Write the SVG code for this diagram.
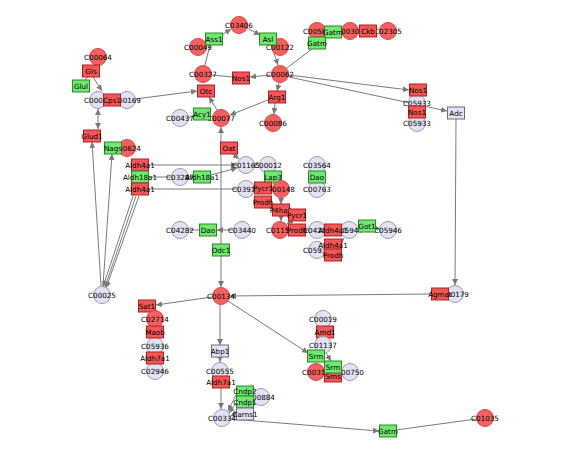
<svg xmlns="http://www.w3.org/2000/svg" width="570" height="456" viewBox="0 0 570 456">
<style>
.e{stroke:#7a7a7a;stroke-width:1;fill:none}
.a{marker-end:url(#ar)}
.b{marker-start:url(#as)}
.cr{fill:#f66060;stroke:#d84848;stroke-width:1}
.cl{fill:#e2e2f4;stroke:#9c9cab;stroke-width:1}
.rr{fill:#f25656;stroke:#b02020;stroke-width:1}
.rg{fill:#70e870;stroke:#2a8a2a;stroke-width:1}
.rl{fill:#e2e2f4;stroke:#6c6c80;stroke-width:1}
text{font-family:"DejaVu Sans",sans-serif;font-size:7.2px;fill:#000;text-anchor:middle}
</style>
<defs>
<marker id="ar" markerWidth="6" markerHeight="6" refX="6" refY="3" orient="auto" markerUnits="userSpaceOnUse"><path d="M0,0L6,3L0,6z" fill="#7a7a7a"/></marker>
<marker id="as" markerWidth="6" markerHeight="6" refX="0" refY="3" orient="auto" markerUnits="userSpaceOnUse"><path d="M6,0L0,3L6,6z" fill="#7a7a7a"/></marker>
</defs>
<rect width="570" height="456" fill="#fff"/>
<g id="connectors">
<line class="e a" x1="93" y1="77" x2="102" y2="91"/>
<line class="e" x1="85" y1="80" x2="88" y2="77"/>
<line class="e a b" x1="98" y1="109" x2="98" y2="129"/>
<line class="e a" x1="135" y1="99" x2="197" y2="91"/>
<line class="e a" x1="101" y1="286" x2="92" y2="142"/>
<line class="e a" x1="103" y1="286" x2="112" y2="154"/>
<line class="e a" x1="133" y1="196" x2="103" y2="287"/>
<line class="e a" x1="136" y1="196" x2="105" y2="287"/>
<line class="e a" x1="139" y1="196" x2="106" y2="288"/>
<line class="e a" x1="149" y1="165" x2="237" y2="165"/>
<line class="e" x1="149" y1="177" x2="171" y2="177"/>
<line class="e" x1="189" y1="177" x2="193" y2="177"/>
<line class="e a" x1="211" y1="175" x2="237" y2="168"/>
<line class="e" x1="149" y1="189" x2="237" y2="189"/>
<line class="e a" x1="217" y1="110" x2="209" y2="97"/>
<line class="e" x1="189" y1="118" x2="193" y2="116"/>
<line class="e a" x1="268" y1="100" x2="230" y2="115"/>
<line class="e a" x1="279" y1="83" x2="277" y2="91"/>
<line class="e a" x1="275" y1="103" x2="274" y2="114"/>
<line class="e a" x1="271" y1="75" x2="250" y2="77"/>
<line class="e" x1="232" y1="77" x2="212" y2="75"/>
<line class="e" x1="205" y1="65" x2="210" y2="45"/>
<line class="e a" x1="222" y1="35" x2="231" y2="29"/>
<line class="e a" x1="247" y1="28" x2="260" y2="35"/>
<line class="e a" x1="271" y1="45" x2="278" y2="65"/>
<line class="e" x1="312" y1="49" x2="287" y2="68"/>
<line class="e a" x1="289" y1="75" x2="409" y2="90"/>
<line class="e a" x1="289" y1="77" x2="447" y2="111"/>
<line class="e a" x1="456" y1="119" x2="455" y2="285"/>
<line class="e a" x1="432" y1="294" x2="230" y2="296"/>
<line class="e a" x1="221" y1="244" x2="221" y2="127"/>
<line class="e a" x1="221" y1="256" x2="221" y2="287"/>
<line class="e a" x1="233" y1="154" x2="239" y2="159"/>
<line class="e" x1="189" y1="230" x2="199" y2="230"/>
<line class="e a" x1="233" y1="230" x2="217" y2="230"/>
<line class="e a" x1="212" y1="297" x2="156" y2="305"/>
<line class="e a" x1="220" y1="305" x2="220" y2="345"/>
<line class="e a" x1="228" y1="301" x2="308" y2="353"/>
<line class="e a" x1="220" y1="357" x2="220" y2="362"/>
<line class="e a" x1="221" y1="388" x2="221" y2="409"/>
<line class="e a" x1="236" y1="395" x2="228" y2="411"/>
<line class="e a" x1="236" y1="403" x2="229" y2="413"/>
<line class="e a" x1="236" y1="413" x2="231" y2="416"/>
<line class="e a" x1="231" y1="419" x2="379" y2="431"/>
<line class="e" x1="396" y1="430" x2="476" y2="419"/>
<line class="e a" x1="281" y1="198" x2="281" y2="204"/>
<line class="e a" x1="281" y1="216" x2="281" y2="221"/>
<line class="e a" x1="291" y1="221" x2="287" y2="224"/>
<line class="e" x1="289" y1="230" x2="288" y2="230"/>
<line class="e" x1="305" y1="230" x2="308" y2="230"/>
<line class="e a" x1="338" y1="245" x2="344" y2="238"/>
<line class="e a" x1="375" y1="228" x2="380" y2="229"/>
<line class="e" x1="254" y1="189" x2="255" y2="189"/>
<line class="e" x1="323" y1="328" x2="324" y2="326"/>
<line class="e a" x1="326" y1="353" x2="331" y2="361"/>
</g>
<g id="n_C00064"><circle class="cr" cx="98" cy="57" r="8.5"/><text x="98" y="59.6">C00064</text></g>
<g id="n_Gls"><rect class="rr" x="82.5" y="65" width="17" height="12"/><text x="91" y="73.6">Gls</text></g>
<g id="n_Glul"><rect class="rg" x="72.5" y="80" width="17" height="12"/><text x="81" y="88.6">Glul</text></g>
<g id="n_C00014"><circle class="cl" cx="98" cy="100" r="8.5"/><text x="98" y="102.6">C00014</text></g>
<g id="n_C00169"><circle class="cl" cx="127" cy="100" r="8.5"/><text x="127" y="102.6">C00169</text></g>
<g id="n_Cps1"><rect class="rr" x="103.5" y="94" width="17" height="12"/><text x="112" y="102.6">Cps1</text></g>
<g id="n_Glud1"><rect class="rr" x="83.5" y="130" width="17" height="12"/><text x="92" y="138.6">Glud1</text></g>
<g id="n_C00624"><circle class="cr" cx="127" cy="148" r="8.5"/><text x="127" y="150.6">C00624</text></g>
<g id="n_Nags"><rect class="rg" x="104.5" y="142" width="17" height="12"/><text x="113" y="150.6">Nags</text></g>
<g id="n_Aldh4a1_1"><rect class="rr" x="131.5" y="159" width="17" height="12"/><text x="140" y="167.6">Aldh4a1</text></g>
<g id="n_Aldh18a1_1"><rect class="rg" x="131.5" y="171" width="17" height="12"/><text x="140" y="179.6">Aldh18a1</text></g>
<g id="n_Aldh4a1_2"><rect class="rr" x="131.5" y="183" width="17" height="12"/><text x="140" y="191.6">Aldh4a1</text></g>
<g id="n_C03287"><circle class="cl" cx="180" cy="177" r="8.5"/><text x="180" y="179.6">C03287</text></g>
<g id="n_Aldh18a1_2"><rect class="rg" x="193.5" y="171" width="17" height="12"/><text x="202" y="179.6">Aldh18a1</text></g>
<g id="n_C00049"><circle class="cr" cx="198" cy="47" r="8.5"/><text x="198" y="49.6">C00049</text></g>
<g id="n_C03406"><circle class="cr" cx="239" cy="25" r="8.5"/><text x="239" y="27.6">C03406</text></g>
<g id="n_Ass1"><rect class="rg" x="205.5" y="33" width="17" height="12"/><text x="214" y="41.6">Ass1</text></g>
<g id="n_C00122"><circle class="cr" cx="280" cy="47" r="8.5"/><text x="280" y="49.6">C00122</text></g>
<g id="n_Asl"><rect class="rg" x="259.5" y="33" width="17" height="12"/><text x="268" y="41.6">Asl</text></g>
<g id="n_C00327"><circle class="cr" cx="203" cy="74" r="8.5"/><text x="203" y="76.6">C00327</text></g>
<g id="n_C00062"><circle class="cr" cx="280" cy="74" r="8.5"/><text x="280" y="76.6">C00062</text></g>
<g id="n_Nos1_1"><rect class="rr" x="232.5" y="72" width="17" height="12"/><text x="241" y="80.6">Nos1</text></g>
<g id="n_Arg1"><rect class="rr" x="268.5" y="91" width="17" height="12"/><text x="277" y="99.6">Arg1</text></g>
<g id="n_C00086"><circle class="cr" cx="273" cy="123" r="8.5"/><text x="273" y="125.6">C00086</text></g>
<g id="n_Otc"><rect class="rr" x="197.5" y="85" width="17" height="12"/><text x="206" y="93.6">Otc</text></g>
<g id="n_C00437"><circle class="cl" cx="180" cy="118" r="8.5"/><text x="180" y="120.6">C00437</text></g>
<g id="n_C00077"><circle class="cr" cx="221" cy="118" r="8.5"/><text x="221" y="120.6">C00077</text></g>
<g id="n_Acy1"><rect class="rg" x="193.5" y="108" width="17" height="12"/><text x="202" y="116.6">Acy1</text></g>
<g id="n_C00581"><circle class="cr" cx="317" cy="31" r="8.5"/><text x="317" y="33.6">C00581</text></g>
<g id="n_C00300"><circle class="cr" cx="350" cy="31" r="8.5"/><text x="350" y="33.6">C00300</text></g>
<g id="n_C02305"><circle class="cr" cx="388" cy="31" r="8.5"/><text x="388" y="33.6">C02305</text></g>
<g id="n_Gatm_1"><rect class="rg" x="324.5" y="26" width="17" height="12"/><text x="333" y="34.6">Gatm</text></g>
<g id="n_Ckb"><rect class="rr" x="359.5" y="25" width="17" height="12"/><text x="368" y="33.6">Ckb</text></g>
<g id="n_Gatm_2"><rect class="rg" x="308.5" y="37" width="17" height="12"/><text x="317" y="45.6">Gatm</text></g>
<g id="n_C05933_1"><circle class="cl" cx="417" cy="103" r="8.5"/><text x="417" y="105.6">C05933</text></g>
<g id="n_C05933_2"><circle class="cl" cx="417" cy="123" r="8.5"/><text x="417" y="125.6">C05933</text></g>
<g id="n_Nos1_2"><rect class="rr" x="409.5" y="84" width="17" height="12"/><text x="418" y="92.6">Nos1</text></g>
<g id="n_Nos1_3"><rect class="rr" x="408.5" y="106" width="17" height="12"/><text x="417" y="114.6">Nos1</text></g>
<g id="n_Adc"><rect class="rl" x="447.5" y="107" width="17" height="12"/><text x="456" y="115.6">Adc</text></g>
<g id="n_Oat"><rect class="rr" x="220.5" y="142" width="17" height="12"/><text x="229" y="150.6">Oat</text></g>
<g id="n_C01165"><circle class="cl" cx="246" cy="165" r="8.5"/><text x="246" y="167.6">C01165</text></g>
<g id="n_C00012"><circle class="cl" cx="268" cy="165" r="8.5"/><text x="268" y="167.6">C00012</text></g>
<g id="n_Lap3"><rect class="rg" x="264.5" y="171" width="17" height="12"/><text x="273" y="179.6">Lap3</text></g>
<g id="n_C03564"><circle class="cl" cx="317" cy="165" r="8.5"/><text x="317" y="167.6">C03564</text></g>
<g id="n_C00763"><circle class="cl" cx="317" cy="189" r="8.5"/><text x="317" y="191.6">C00763</text></g>
<g id="n_Dao_1"><rect class="rg" x="308.5" y="171" width="17" height="12"/><text x="317" y="179.6">Dao</text></g>
<g id="n_C03912"><circle class="cl" cx="246" cy="189" r="8.5"/><text x="246" y="191.6">C03912</text></g>
<g id="n_C00148"><circle class="cr" cx="281" cy="189" r="8.5"/><text x="281" y="191.6">C00148</text></g>
<g id="n_Pycr1_1"><rect class="rr" x="254.5" y="182" width="17" height="12"/><text x="263" y="190.6">Pycr1</text></g>
<g id="n_Prodh_1"><rect class="rr" x="254.5" y="196" width="17" height="12"/><text x="263" y="204.6">Prodh</text></g>
<g id="n_C01157"><circle class="cr" cx="280" cy="230" r="8.5"/><text x="280" y="232.6">C01157</text></g>
<g id="n_P4ha1"><rect class="rr" x="272.5" y="204" width="17" height="12"/><text x="281" y="212.6">P4ha1</text></g>
<g id="n_Pycr1_2"><rect class="rr" x="288.5" y="209" width="17" height="12"/><text x="297" y="217.6">Pycr1</text></g>
<g id="n_Prodh_2"><rect class="rr" x="288.5" y="224" width="17" height="12"/><text x="297" y="232.6">Prodh</text></g>
<g id="n_C04281"><circle class="cl" cx="317" cy="230" r="8.5"/><text x="317" y="232.6">C04281</text></g>
<g id="n_C05947"><circle class="cl" cx="349" cy="230" r="8.5"/><text x="349" y="232.6">C05947</text></g>
<g id="n_Aldh4a1_3"><rect class="rr" x="324.5" y="224" width="17" height="12"/><text x="333" y="232.6">Aldh4a1</text></g>
<g id="n_C05946"><circle class="cl" cx="388" cy="230" r="8.5"/><text x="388" y="232.6">C05946</text></g>
<g id="n_Got1"><rect class="rg" x="358.5" y="220" width="17" height="12"/><text x="367" y="228.6">Got1</text></g>
<g id="n_C05938"><circle class="cl" cx="317" cy="250" r="8.5"/><text x="317" y="252.6">C05938</text></g>
<g id="n_Aldh4a1_4"><rect class="rr" x="324.5" y="239" width="17" height="12"/><text x="333" y="247.6">Aldh4a1</text></g>
<g id="n_Prodh_3"><rect class="rr" x="324.5" y="249" width="17" height="12"/><text x="333" y="257.6">Prodh</text></g>
<g id="n_C04282"><circle class="cl" cx="180" cy="230" r="8.5"/><text x="180" y="232.6">C04282</text></g>
<g id="n_C03440"><circle class="cl" cx="242" cy="230" r="8.5"/><text x="242" y="232.6">C03440</text></g>
<g id="n_Dao_2"><rect class="rg" x="199.5" y="224" width="17" height="12"/><text x="208" y="232.6">Dao</text></g>
<g id="n_Odc1"><rect class="rg" x="212.5" y="244" width="17" height="12"/><text x="221" y="252.6">Odc1</text></g>
<g id="n_C00134"><circle class="cr" cx="221" cy="296" r="8.5"/><text x="221" y="298.6">C00134</text></g>
<g id="n_C00179"><circle class="cl" cx="455" cy="294" r="8.5"/><text x="455" y="296.6">C00179</text></g>
<g id="n_Agmat"><rect class="rr" x="431.5" y="288" width="17" height="12"/><text x="440" y="296.6">Agmat</text></g>
<g id="n_C00025"><circle class="cl" cx="102" cy="295" r="8.5"/><text x="102" y="297.6">C00025</text></g>
<g id="n_Sat1"><rect class="rr" x="138.5" y="300" width="17" height="12"/><text x="147" y="308.6">Sat1</text></g>
<g id="n_C02714"><circle class="cr" cx="155" cy="319" r="8.5"/><text x="155" y="321.6">C02714</text></g>
<g id="n_C05936"><circle class="cl" cx="155" cy="346" r="8.5"/><text x="155" y="348.6">C05936</text></g>
<g id="n_C02946"><circle class="cl" cx="155" cy="371" r="8.5"/><text x="155" y="373.6">C02946</text></g>
<g id="n_Maob"><rect class="rr" x="146.5" y="326" width="17" height="12"/><text x="155" y="334.6">Maob</text></g>
<g id="n_Aldh7a1_1"><rect class="rr" x="146.5" y="352" width="17" height="12"/><text x="155" y="360.6">Aldh7a1</text></g>
<g id="n_Abp1"><rect class="rl" x="211.5" y="345" width="17" height="12"/><text x="220" y="353.6">Abp1</text></g>
<g id="n_C00555"><circle class="cl" cx="220" cy="371" r="8.5"/><text x="220" y="373.6">C00555</text></g>
<g id="n_Aldh7a1_2"><rect class="rr" x="212.5" y="376" width="17" height="12"/><text x="221" y="384.6">Aldh7a1</text></g>
<g id="n_C00334"><circle class="cl" cx="222" cy="418" r="8.5"/><text x="222" y="420.6">C00334</text></g>
<g id="n_C00884"><circle class="cl" cx="261" cy="397" r="8.5"/><text x="261" y="399.6">C00884</text></g>
<g id="n_Cndp2"><rect class="rg" x="236.5" y="386" width="17" height="10"/><text x="245" y="393.6">Cndp2</text></g>
<g id="n_Cndp1"><rect class="rg" x="236.5" y="396" width="17" height="12"/><text x="245" y="404.6">Cndp1</text></g>
<g id="n_Carns1"><rect class="rl" x="236.5" y="408" width="17" height="12"/><text x="245" y="416.6">Carns1</text></g>
<g id="n_Gatm_3"><rect class="rg" x="379.5" y="425" width="17" height="12"/><text x="388" y="433.6">Gatm</text></g>
<g id="n_C01035"><circle class="cr" cx="485" cy="418" r="8.5"/><text x="485" y="420.6">C01035</text></g>
<g id="n_C00019"><circle class="cl" cx="323" cy="319" r="8.5"/><text x="323" y="321.6">C00019</text></g>
<g id="n_Amd1"><rect class="rr" x="316.5" y="326" width="17" height="12"/><text x="325" y="334.6">Amd1</text></g>
<g id="n_C01137"><circle class="cl" cx="323" cy="345" r="8.5"/><text x="323" y="347.6">C01137</text></g>
<g id="n_C00315"><circle class="cr" cx="316" cy="372" r="8.5"/><text x="316" y="374.6">C00315</text></g>
<g id="n_C00750"><circle class="cl" cx="350" cy="372" r="8.5"/><text x="350" y="374.6">C00750</text></g>
<g id="n_Sms"><rect class="rr" x="324.5" y="370" width="17" height="12"/><text x="333" y="378.6">Sms</text></g>
<g id="n_Srm_1"><rect class="rg" x="307.5" y="350" width="17" height="12"/><text x="316" y="358.6">Srm</text></g>
<g id="n_Srm_2"><rect class="rg" x="324.5" y="361" width="17" height="12"/><text x="333" y="369.6">Srm</text></g>
</svg>
